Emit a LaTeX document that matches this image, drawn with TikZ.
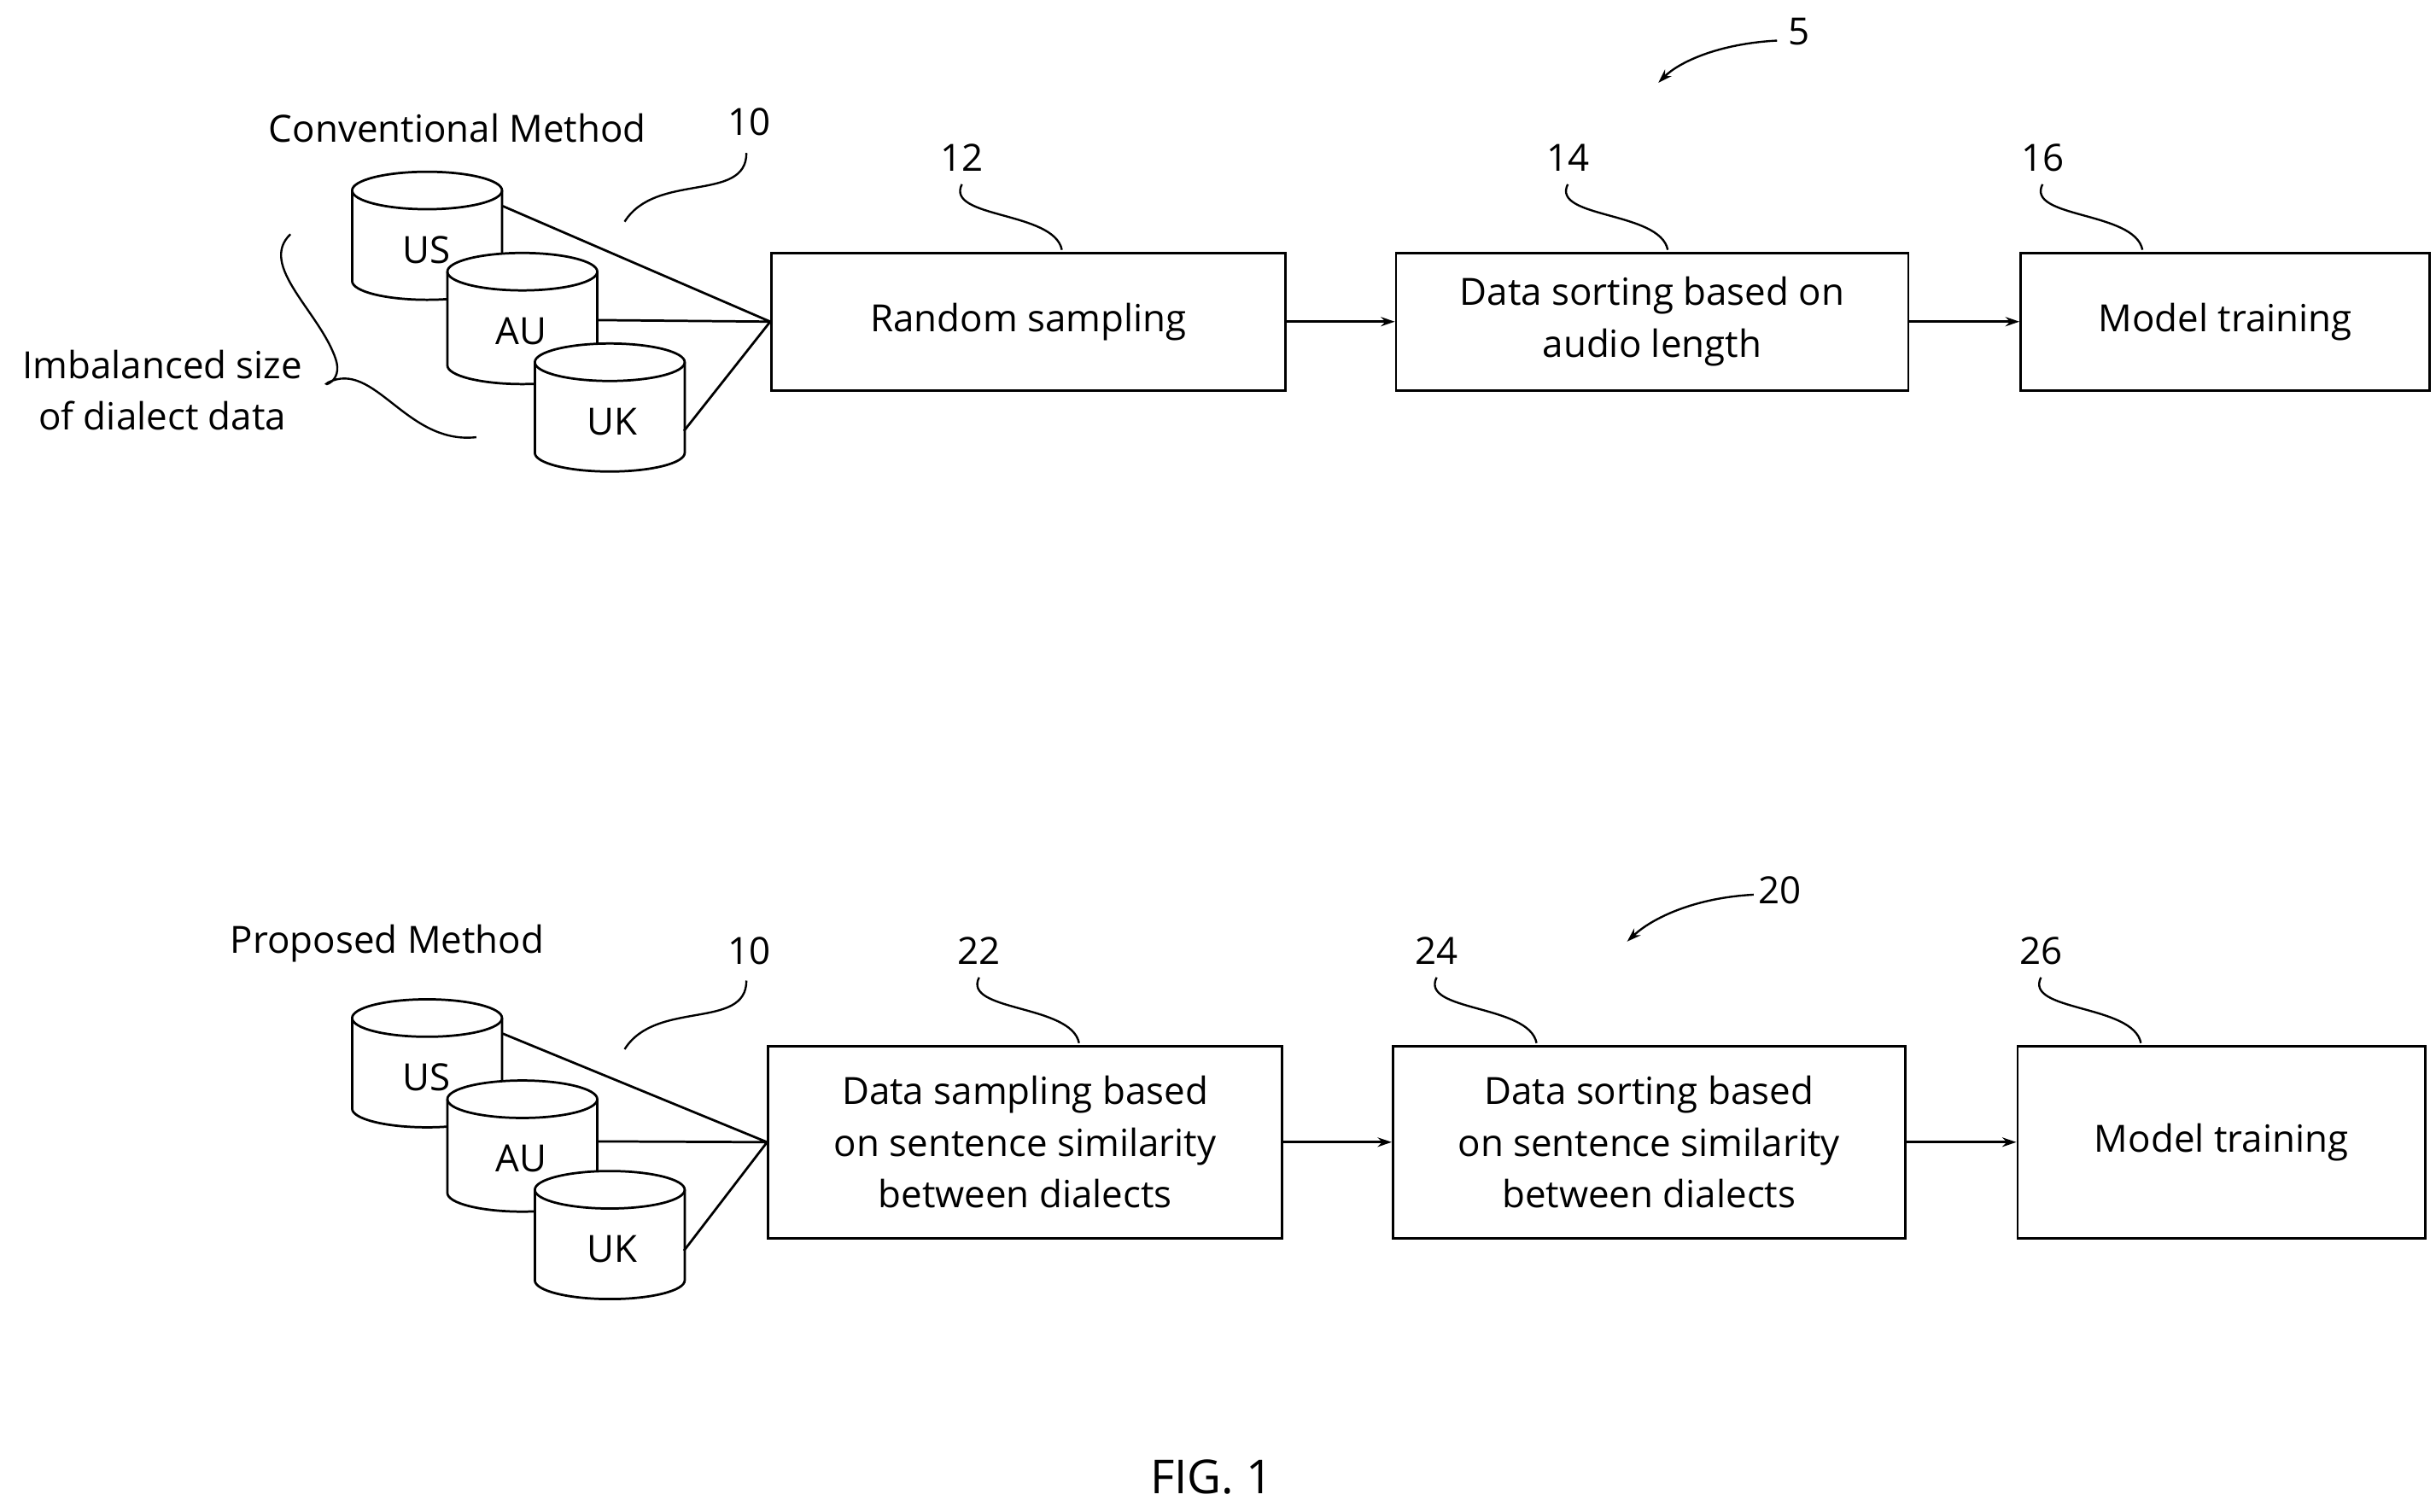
\documentclass[tikz,border=0pt]{standalone}
\usepackage{fontspec}
\setmainfont{Open Sans}
\usetikzlibrary{arrows.meta}
\begin{document}
\begin{tikzpicture}[x=1pt,y=-1pt,line width=1.5pt,
  box/.style={draw,minimum height=0pt,inner sep=0pt},
  txt/.style={font=\fontsize{24}{33}\selectfont,align=center,inner sep=0pt},
  lbl/.style={font=\fontsize{24}{28}\selectfont,inner sep=0pt},
  arr/.style={-{Stealth[length=9pt,width=6pt]}},
  lead/.style={line width=1.3pt}]
\useasboundingbox (0,0) rectangle (1560,968);
\newcommand{\cyl}[4]{% cx, ytop, ybottom, name
  \filldraw[fill=white] (#1-48,#2+12) -- (#1-48,#3) arc[start angle=180,end angle=360,x radius=48,y radius=-12] -- (#1+48,#2+12) arc[start angle=0,end angle=-180,x radius=48,y radius=12] -- cycle;
  \draw (#1-48,#2+12) arc[start angle=180,end angle=360,x radius=48,y radius=-12];
  \coordinate (#4) at (#1,#2);}
\foreach \dy/\s in {0/a,530/b}{
  \begin{scope}[yshift=-\dy pt]
  \cyl{273.5}{110}{180}{us\s}
  \node[lbl] (tus\s) at (273,160) {US};
  \cyl{334.5}{162}{234}{au\s}
  \node[lbl] (tau\s) at (334,212) {AU};
  \cyl{390.5}{220}{290}{uk\s}
  \node[lbl] (tuk\s) at (392,270) {UK};
  \end{scope}}
% top row
\node[box,minimum width=329pt,minimum height=88pt] (b12) at (658.5,206) {};
\node[txt] at (b12) {Random sampling};
\node[box,minimum width=328pt,minimum height=88pt] (b14) at (1058,206) {};
\node[txt] at (b14) {Data sorting based on\\audio length};
\node[box,minimum width=262pt,minimum height=88pt] (b16) at (1425,206) {};
\node[txt] at (b16) {Model training};
\draw (322,132) -- (b12.west) (382,205) -- (b12.west) (438,276) -- (b12.west);
\draw[arr] (b12) -- (b14);
\draw[arr] (b14) -- (b16);
% bottom row
\node[box,minimum width=329pt,minimum height=123pt] (b22) at (656.5,731.5) {};
\node[txt] at (b22) {Data sampling based\\on sentence similarity\\between dialects};
\node[box,minimum width=328pt,minimum height=123pt] (b24) at (1056,731.5) {};
\node[txt] at (b24) {Data sorting based\\on sentence similarity\\between dialects};
\node[box,minimum width=261pt,minimum height=123pt] (b26) at (1422.5,731.5) {};
\node[txt] at (b26) {Model training};
\draw (322,662) -- (b22.west) (382,731) -- (b22.west) (438,801) -- (b22.west);
\draw[arr] (b22) -- (b24);
\draw[arr] (b24) -- (b26);
% texts
\node[lbl] (cm) at (293,82) {Conventional Method};
\node[lbl] (pm) at (248,604) {Proposed Method};
\node[txt] (imb) at (104,250) {Imbalanced size\\of dialect data};
\node[txt,font=\fontsize{30}{30}\selectfont] (fig) at (776,946) {FIG. 1};
% reference numerals
\node[lbl] (n10a) at (480,78) {10};
\node[lbl] (n12) at (616,101) {12};
\node[lbl] (n14) at (1004,101) {14};
\node[lbl] (n16) at (1308,101) {16};
\node[lbl] (n5) at (1152,20) {5};
\node[lbl] (n10b) at (480,609) {10};
\node[lbl] (n22) at (627,609) {22};
\node[lbl] (n24) at (920,609) {24};
\node[lbl] (n26) at (1307,609) {26};
\node[lbl] (n20) at (1140,570) {20};
% leaders
\foreach \dy in {0,530}{
  \draw[lead,yshift=-\dy pt] (478,98) .. controls (478,130) and (420,110) .. (400,142);}
\draw[lead] (616,118) .. controls (605,140) and (675,135) .. (680,160);
\draw[lead] (1004,118) .. controls (993,140) and (1063,135) .. (1068,160);
\draw[lead] (1308,118) .. controls (1297,140) and (1367,135) .. (1372,160);
\draw[lead] (627,626) .. controls (616,648) and (686,643) .. (691,668);
\draw[lead] (920,626) .. controls (909,648) and (979,643) .. (984,668);
\draw[lead] (1307,626) .. controls (1296,648) and (1366,643) .. (1371,668);
\draw[lead,arr] (1138,26) .. controls (1100,28) and (1075,40) .. (1062,53);
\draw[lead,arr] (1123,573) .. controls (1085,575) and (1058,588) .. (1042,603);
% brace
\draw[lead] (186,150) .. controls (165,170) and (205,200) .. (215,230)
  .. controls (220,245) and (205,248) .. (210,245)
  .. controls (240,230) and (260,285) .. (305,280);
\end{tikzpicture}
\end{document}
